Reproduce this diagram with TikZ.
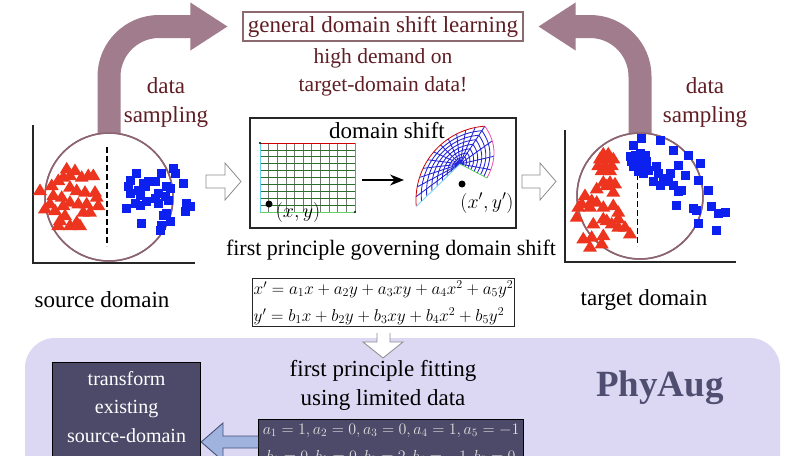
\RequirePackage{fix-cm}
\documentclass[tikz,border=0pt]{standalone}
\usepackage[no-math]{fontspec}
\setmainfont{Liberation Serif}
\usetikzlibrary{arrows.meta}
\definecolor{mauvearr}{RGB}{160,124,140}
\definecolor{circbrd}{RGB}{140,100,112}
\definecolor{dredtxt}{RGB}{96,30,36}
\definecolor{titlebrd}{RGB}{140,105,110}
\definecolor{lavender}{RGB}{220,216,244}
\definecolor{darkbox}{RGB}{76,74,104}
\definecolor{phyaugc}{RGB}{80,78,112}
\definecolor{bluearr}{RGB}{160,178,222}
\definecolor{bluebrd}{RGB}{70,80,120}
\definecolor{redpt}{RGB}{236,52,30}
\definecolor{bluept}{RGB}{12,32,240}
\definecolor{gridg}{RGB}{44,110,44}
\definecolor{wblue}{RGB}{35,35,215}
\newcommand\myfs[2]{\fontsize{#1}{#2}\selectfont}
\tikzset{
  lbl/.style={inner sep=0pt, align=center},
  brownlbl/.style={lbl, text=dredtxt},
  plotcirc/.style={circle, draw=circbrd, line width=1.5pt, inner sep=0pt},
  axisline/.style={line width=1.2pt, draw=black!85},
  sepline/.style={line width=1.6pt, dash pattern=on 6pt off 3pt},
  bigarrow/.style={draw=mauvearr, line width=23pt, rounded corners=50pt},
  openarrow/.style={draw=black!45, fill=white, line width=0.8pt},
  darkrect/.style={draw=black, fill=darkbox, line width=1.2pt, inner sep=0pt},
  tri/.style={fill=redpt},
  sq/.style={fill=bluept},
  wline/.style={draw=wblue, line width=0.85pt},
}
\begin{document}
\begin{tikzpicture}[x=1pt,y=-1pt,
  declare function={
    bx(\t)=(1-\t)*(1-\t)*24.8+2*\t*(1-\t)*42+\t*\t*27;
    by(\t)=(1-\t)*(1-\t)*(-37.8)+2*\t*(1-\t)*(-14)+\t*\t*14;}]
\useasboundingbox (0,0) rectangle (808,455);
\clip (0,0) rectangle (808,455);
\fill[white] (0,0) rectangle (808,455);

% lavender panel
\fill[lavender, rounded corners=30pt] (25,338) rectangle (780,520);

% nodes
\node[draw=titlebrd, line width=1.2pt, minimum width=280pt, minimum height=29pt, inner sep=0pt, font=\myfs{23}{27}, text=dredtxt] (title) at (383,26.5) {general domain shift learning};
\node[brownlbl, font=\myfs{21.5}{28}] (demand) at (383,72) {high demand on\\target-domain data!};
\node[brownlbl, font=\myfs{23}{29}] (dsl) at (166,103) {data\\sampling};
\node[brownlbl, font=\myfs{23}{29}] (dsr) at (705,103) {data\\sampling};

\node[plotcirc, minimum size=128pt] (cl) at (109,197) {};
\node[plotcirc, minimum size=126pt] (cr) at (640,196) {};

% big curved arrows
\coordinate (lt) at ([xshift=-15pt]title.west);
\coordinate (rt) at ([xshift=15pt]title.east);
\draw[bigarrow] ([yshift=-1pt]cl.north) |- ([xshift=-36pt]lt);
\fill[mauvearr] ([xshift=-37pt,yshift=24pt]lt) -- (lt) -- ([xshift=-37pt,yshift=-24pt]lt) -- cycle;
\draw[bigarrow] ([yshift=-1pt]cr.north) |- ([xshift=36pt]rt);
\fill[mauvearr] ([xshift=37pt,yshift=24pt]rt) -- (rt) -- ([xshift=37pt,yshift=-24pt]rt) -- cycle;
\node[plotcirc, minimum size=128pt] at (cl) {};
\node[plotcirc, minimum size=126pt] at (cr) {};

% left plot
\draw[axisline] (33,125) |- (195,263);
\draw[sepline] (107,147) -- (107,246);
\foreach \x/\y in {66.7/168.3,75/170,63.3/176.7,70/175,81.7/176.7,88.3/175,93.3/175,40/190,51.7/185,58.3/180,70/186.7,76.7/190,85/191.7,95/191.7,53.3/195,61.7/196.7,70/201.7,50/203.3,63.3/205,78.3/203.3,86.7/203.3,98.3/205,55/210,65/215,83.3/211.7,90/211.7,60/220,58.3/225,70/225,76.7/221.7,80/225,45/208.3,96.7/196.7}
  \fill[tri] (\x,\y-6.5) -- (\x+7,\y+5) -- (\x-7,\y+5) -- cycle;
\foreach \x/\y in {136.7/173.3,130/180,128.3/186.7,143.3/183.3,148.3/181.7,155/181.7,161.7/173.3,173.3/168.3,175/173.3,183.3/183.3,130/193.3,138.3/190,145/186.7,140/195,135/203.3,126.7/208.3,140/205,146.7/201.7,155/198.3,158.3/193.3,166.7/186.7,170/188.3,165/196.7,168.3/200,158.3/203.3,163.3/215,166.7/213.3,170/221.7,160/230,161.7/225,141.7/223.3,186.7/203.3,185/211.7,190/206.7}
  \fill[sq] (\x-4.5,\y-4.5) rectangle (\x+4.5,\y+4.5);

% right plot
\draw[axisline] (565,130) |- (736,262);
\draw[sepline] (637.5,147) -- (637.5,246);
\foreach \x/\y in {603.3/153.3,608.3/153.3,600/158.3,606.7/158.3,613.3/158.3,598.3/165,605/165,611.7/165,601.7/170,610/170,603.3/181.7,610/181.7,615/183.3,596.7/188.3,606.7/185,613.3/191.7,585/195,591.7/200,596.7/201.7,581.7/203.3,590/206.7,603.3/206.7,613.3/205,618.3/211.7,578.3/206.7,576.7/216.7,593.3/223.3,603.3/218.3,611.7/223.3,618.3/226.7,625/226.7,630/233.3,603.3/235,591.7/236.7,583.3/238.3,590/246.7,601.7/243.3,606.7/220,618.3/218.3}
  \fill[tri] (\x,\y-6.5) -- (\x+7,\y+5) -- (\x-7,\y+5) -- cycle;
\foreach \x/\y in {630/156.7,635/155,640/153.3,645/155,631.7/161.7,636.7/161.7,641.7/160,646.7/161.7,633.3/166.7,640/166.7,645/168.3,638.3/171.7,643.3/173.3,648.3/170,633.3/145,641.7/138.3,660/140,673.3/150,688.3/155,700/163.3,656.7/166.7,658.3/173.3,653.3/181.7,660/185,670/173.3,678.3/165,685/175,673.3/185,678.3/191.7,681.7/190,698.3/180,708.3/190,676.7/205,693.3/208.3,696.7/210,711.7/206.7,718.3/213.3,725/212.7,698.3/223.3,716.7/230,668.3/181.7,663.3/178.3}
  \fill[sq] (\x-4.5,\y-4.5) rectangle (\x+4.5,\y+4.5);

% domain shift box
\node[draw=black!85, line width=1.2pt, minimum width=266pt, minimum height=110pt, inner sep=0pt] (ds) at (383,173) {};
\node[lbl, font=\myfs{23}{27}] (dstitle) at (387,131) {domain shift};
% source grid
\foreach \i in {1,...,10} \draw[black!55, line width=0.7pt] ({260+\i*95/11},143) -- ({260+\i*95/11},212);
\foreach \j in {1,...,9} \draw[gridg, line width=0.7pt] (260,{143+\j*6.9}) -- (355,{143+\j*6.9});
\draw[red!80!black, line width=0.8pt] (260,143) -- (355,143);
\draw[cyan!60, line width=0.8pt] (260,143) -- (260,212);
\draw[magenta!70, line width=0.8pt] (355,143) -- (355,212);
\draw[green!70!black!60, line width=0.8pt] (260,212) -- (355,212);
\fill[black] (260,143) circle (1.2pt) (355,212) circle (1.2pt);
\node[circle, fill=black, inner sep=0pt, minimum size=7pt] (pxy) at (269,204) {};
\node[lbl, font=\myfs{20}{24}] (lxy) at (298,212) {$(x,y)$};
% arrow inside box
\coordinate (ga) at (362,180);
\coordinate (gb) at (404,180);
\draw[line width=1.4pt, -{Stealth[length=14pt,width=11pt]}] (ga) -- (gb);
% warped grid: focus F=(460,164), outer red arc centred (490,200) r=74
\coordinate (wf) at (460,164);
\foreach \k in {1,...,12} {
  \pgfmathsetmacro\ang{185-\k*91/12}
  \draw[wline] (wf) -- ({490+74*cos(\ang)},{200-74*sin(\ang)});
}
\foreach \t in {0.3,0.6,0.85}
  \draw[wline] (wf) -- ({460+bx(\t)},{164+by(\t)});
\foreach \v in {0.1,0.19,0.29,0.4,0.52,0.64,0.76,0.88}{
  \draw[wline] plot[domain=185:94, samples=40, variable=\a] ({460+\v*(30+74*cos(\a))},{164+\v*(36-74*sin(\a))});
  \draw[wline] plot[domain=0:1, samples=15, variable=\t] ({460+\v*bx(\t)},{164+\v*by(\t)});
}
\draw[red!80!black, line width=0.8pt] plot[domain=185:94, samples=40, variable=\a] ({490+74*cos(\a)},{200-74*sin(\a)});
\draw[magenta!70, line width=0.8pt] plot[domain=0:1, samples=20, variable=\t] ({460+bx(\t)},{164+by(\t)});
\draw[green!70!black!60, line width=0.8pt] (wf) -- (487,178);
\draw[cyan!50, line width=0.9pt] (wf) -- ({490+74*cos(185)},{200-74*sin(185)});
\node[circle, fill=black, inner sep=0pt, minimum size=7pt] (pxy2) at (462,184) {};
\node[lbl, font=\myfs{20}{24}] (lxy2) at (487,203) {$(x',y')$};

% open arrows
\draw[openarrow] (206,175) -- (225,175) -- (225,163) -- (241,181.5) -- (225,200) -- (225,188) -- (206,188) -- cycle;
\draw[openarrow] (522,175) -- (540,175) -- (540,163) -- (556,181.5) -- (540,200) -- (540,188) -- (522,188) -- cycle;

% texts
\node[lbl, font=\myfs{22}{26}] (fpg) at (391,250) {first principle governing domain shift};
\node[lbl, font=\myfs{23}{27}] (src) at (102,300) {source domain};
\node[lbl, font=\myfs{23}{27}] (tgt) at (644,300) {target domain};

% equation box
\node[draw=black!85, fill=white, line width=1.2pt, inner sep=1.5pt, align=left, font=\myfs{17.2}{27}] (eq) at (383.5,302.5)
  {$x' = a_1x + a_2y + a_3xy + a_4x^2 + a_5y^2$\\ $y' = b_1x + b_2y + b_3xy + b_4x^2 + b_5y^2$};
\draw[openarrow] (377,333) -- (377,342) -- (363,342) -- (383,358) -- (403,342) -- (390,342) -- (390,333);

\node[lbl, font=\myfs{23}{29}] (fit) at (383,385) {first principle fitting\\using limited data};
\node[lbl, font=\myfs{37}{40}\bfseries, text=phyaugc] (phy) at (660,388) {PhyAug};

% dark boxes
\node[darkrect, anchor=north west, minimum width=148pt, minimum height=150pt] (tf) at (52,362) {};
\node[lbl, font=\myfs{20}{28.5}, text=white, anchor=north] (tft) at ([yshift=-9pt]tf.north) {transform\\existing\\source-domain};
\node[darkrect, anchor=north west, minimum width=265pt, minimum height=100pt] (cf) at (258,419) {};
\node[lbl, font=\myfs{16}{27}, text=black!12, anchor=north] (cft) at ([yshift=-5pt]cf.north)
  {$a_1=1, a_2=0, a_3=0, a_4=1, a_5=-1$\\ $b_1=0, b_2=0, b_3=2, b_4=-1, b_5=0$};
% blue arrow
\draw[draw=bluebrd, fill=bluearr, line width=0.9pt] (cf.west |- 0,436) -- (223,436) -- (223,423) -- (tf.east |- 0,442) -- (223,461) -- (223,448) -- (cf.west |- 0,448);
\end{tikzpicture}
\end{document}
